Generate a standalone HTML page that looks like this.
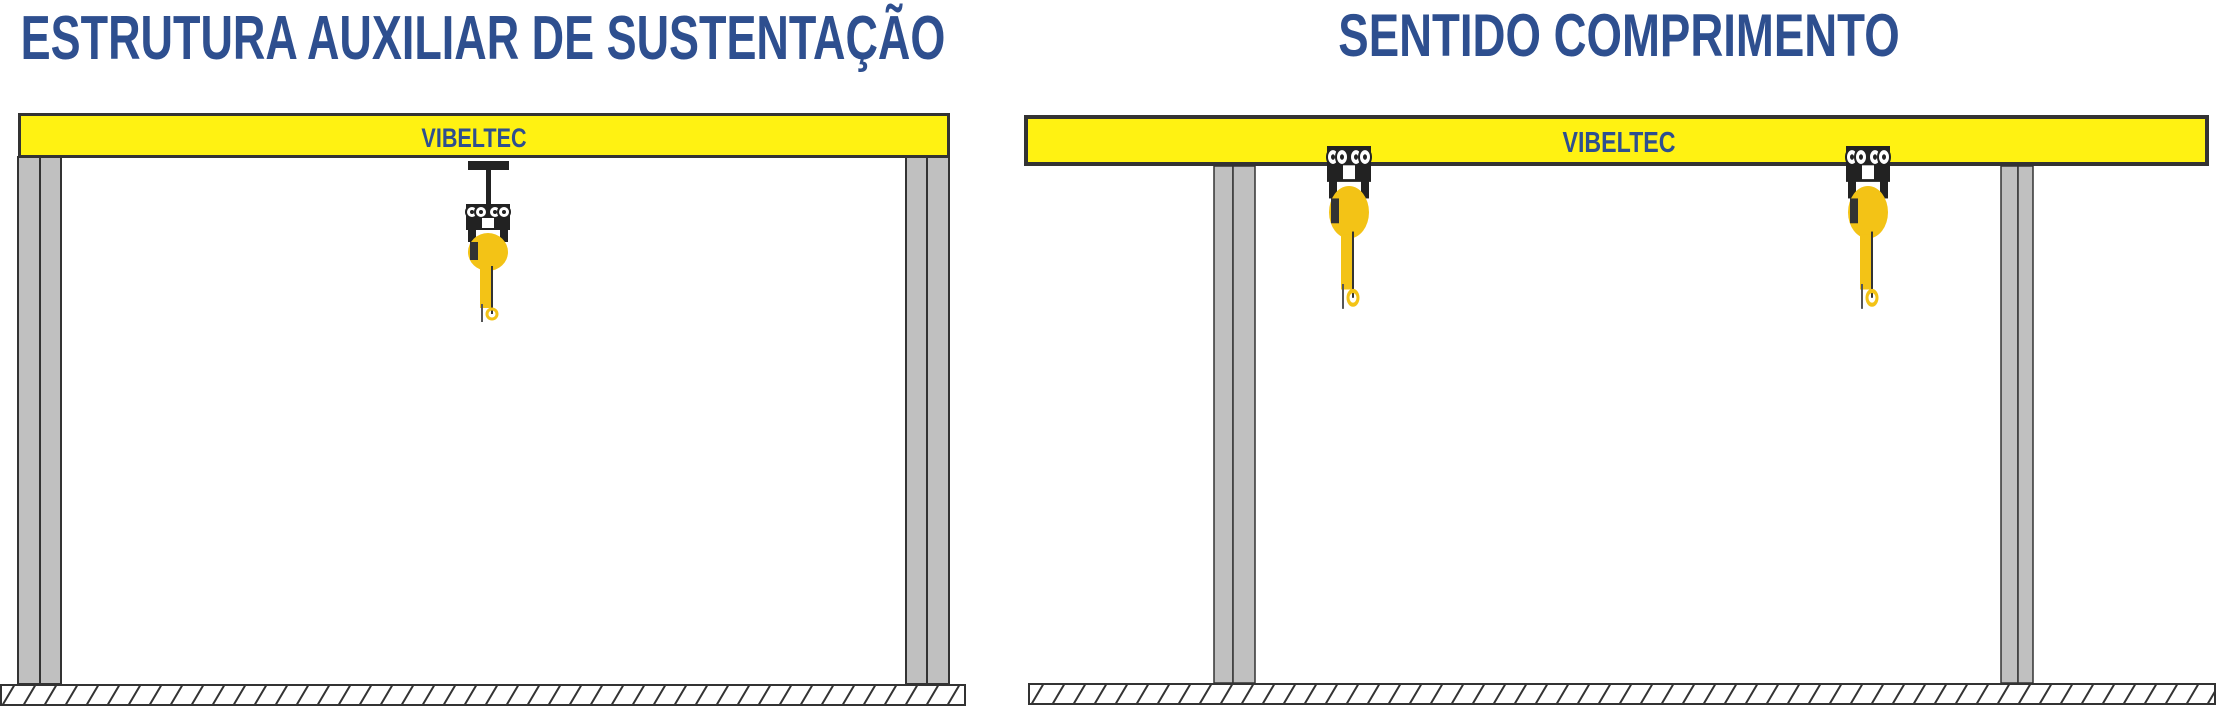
<!DOCTYPE html>
<html><head><meta charset="utf-8"><style>
html,body{margin:0;padding:0;background:#fff;}
svg{display:block}
.t{font-family:"Liberation Sans",sans-serif;font-weight:bold;fill:#2e4f8f;}
</style></head><body>
<svg width="2220" height="710" viewBox="0 0 2220 710" xmlns="http://www.w3.org/2000/svg">
<defs>
<pattern id="h" x="0" y="685" width="21" height="20" patternUnits="userSpaceOnUse">
<line x1="2" y1="21" x2="15" y2="-1" stroke="#333" stroke-width="2"/>
<line x1="23" y1="21" x2="36" y2="-1" stroke="#333" stroke-width="2"/>
<line x1="-19" y1="21" x2="-6" y2="-1" stroke="#333" stroke-width="2"/>
</pattern>
<pattern id="h2" x="1029" y="684" width="21" height="20" patternUnits="userSpaceOnUse">
<line x1="2" y1="21" x2="15" y2="-1" stroke="#333" stroke-width="2"/>
<line x1="23" y1="21" x2="36" y2="-1" stroke="#333" stroke-width="2"/>
<line x1="-19" y1="21" x2="-6" y2="-1" stroke="#333" stroke-width="2"/>
</pattern>
<g id="hoist">
<rect x="-22" y="0" width="44" height="26" fill="#222"/>
<circle cx="-16" cy="8" r="6" fill="#fff" stroke="#222" stroke-width="2"/>
<circle cx="-7" cy="8" r="6" fill="#fff" stroke="#222" stroke-width="2"/>
<circle cx="7" cy="8" r="6" fill="#fff" stroke="#222" stroke-width="2"/>
<circle cx="16" cy="8" r="6" fill="#fff" stroke="#222" stroke-width="2"/>
<circle cx="-16" cy="8" r="2" fill="#222"/><circle cx="-7" cy="8" r="2" fill="#222"/>
<circle cx="7" cy="8" r="2" fill="#222"/><circle cx="16" cy="8" r="2" fill="#222"/>
<rect x="-6" y="14" width="12" height="10" fill="#fff"/>
<rect x="-20" y="24" width="8" height="14" fill="#222"/>
<rect x="12" y="24" width="8" height="14" fill="#222"/>
<ellipse cx="0" cy="48" rx="20" ry="19" fill="#f3c316"/>
<rect x="-18" y="38" width="8" height="18" fill="#333"/>
<rect x="-8" y="64" width="12" height="40" fill="#f3c316"/>
<line x1="4" y1="62" x2="4" y2="110" stroke="#333" stroke-width="2"/>
<line x1="-6" y1="100" x2="-6" y2="118" stroke="#555" stroke-width="2"/>
<circle cx="4" cy="110" r="5" fill="none" stroke="#f3c316" stroke-width="3"/>
</g>
</defs>

<text class="t" x="483" y="59" text-anchor="middle" font-size="62" transform="translate(483 0) scale(0.725 1) translate(-483 0)">ESTRUTURA AUXILIAR DE SUSTENTAÇÃO</text>
<text class="t" x="1619" y="56" text-anchor="middle" font-size="60" transform="translate(1619 0) scale(0.76 1) translate(-1619 0)">SENTIDO COMPRIMENTO</text>

<rect x="18" y="157" width="22" height="527" fill="#c0c0c0" stroke="#333" stroke-width="2"/>
<rect x="40" y="157" width="21" height="527" fill="#c0c0c0" stroke="#333" stroke-width="2"/>
<rect x="906" y="157" width="21" height="527" fill="#c0c0c0" stroke="#333" stroke-width="2"/>
<rect x="927" y="157" width="22" height="527" fill="#c0c0c0" stroke="#333" stroke-width="2"/>
<rect x="19.5" y="114.5" width="929" height="42" fill="#fff212" stroke="#333" stroke-width="3"/>
<text class="t" x="474" y="147" text-anchor="middle" font-size="27" transform="translate(474 0) scale(0.8 1) translate(-474 0)">VIBELTEC</text>
<rect x="468" y="161" width="41" height="9" fill="#222"/>
<rect x="486" y="168" width="5" height="36" fill="#222"/>
<use href="#hoist" transform="translate(488 204)"/>
<rect x="1" y="685" width="964" height="20" fill="url(#h)" stroke="#333" stroke-width="2"/>

<rect x="1214" y="166" width="19" height="517" fill="#c0c0c0" stroke="#333" stroke-width="1.5"/>
<rect x="1233" y="166" width="22" height="517" fill="#c0c0c0" stroke="#333" stroke-width="1.5"/>
<rect x="2001" y="166" width="17" height="517" fill="#c0c0c0" stroke="#333" stroke-width="1.5"/>
<rect x="2018" y="166" width="15" height="517" fill="#c0c0c0" stroke="#333" stroke-width="1.5"/>
<rect x="1026" y="117" width="1181" height="47" fill="#fff212" stroke="#333" stroke-width="4"/>
<text class="t" x="1619" y="152" text-anchor="middle" font-size="29" transform="translate(1619 0) scale(0.8 1) translate(-1619 0)">VIBELTEC</text>
<use href="#hoist" transform="translate(1349 146) scale(1 1.38)"/>
<use href="#hoist" transform="translate(1868 146) scale(1 1.38)"/>
<rect x="1029" y="684" width="1186" height="20" fill="url(#h2)" stroke="#333" stroke-width="2"/>
</svg>
</body></html>
